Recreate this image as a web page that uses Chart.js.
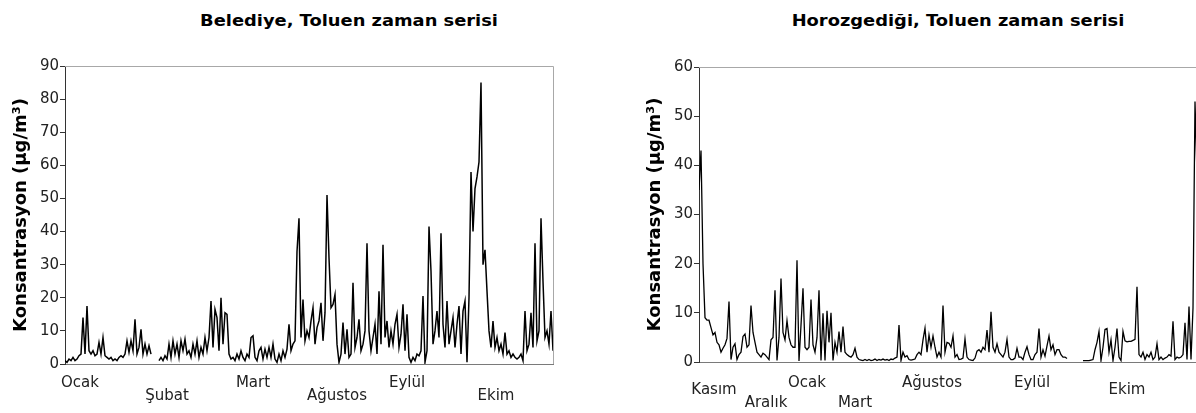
<!DOCTYPE html>
<html>
<head>
<meta charset="utf-8">
<script src="https://cdn.jsdelivr.net/npm/chart.js@4.4.1/dist/chart.umd.min.js"></script>
<style>
  html, body { margin: 0; padding: 0; background: #fff; width: 1196px; height: 413px; overflow: hidden; }
  .title { position: absolute; top: 12px; font: bold 15px "DejaVu Sans"; color: #000; white-space: nowrap;
           transform: translateX(-50%) scaleX(1.19); }
  .box { position: absolute; top: 0; height: 413px; }
</style>
</head>
<body>
<div class="title" style="left:349px">Belediye, Toluen zaman serisi</div>
<div class="title" style="left:958px">Horozgediği, Toluen zaman serisi</div>
<div class="box" style="left:0; width:600px"><canvas id="chartBelediye"></canvas></div>
<div class="box" style="left:634px; width:576px"><canvas id="chartHoroz"></canvas></div>
<script>
var yTitle = "Konsantrasyon (µg/m³)";

// Belediye
var belediyeMonths = ["Ocak", "Şubat", "Mart", "Ağustos", "Eylül", "Ekim"];
var belediyeMonthAt = [7.5, 51, 94, 136, 171, 215.5];
var belediyeToluene = [
  1, 0.5, 1.5, 1, 2, 1, 1.5, 2.5, 3, 14,
  3, 17.5, 4, 3, 4, 2.5, 3, 6.5, 3, 8,
  2.5, 2, 1.5, 2, 1, 1.5, 1, 2, 2.5, 2,
  3, 7, 3.5, 7, 4, 13.5, 3, 5, 10.5, 3,
  6, 3, 5.5, 3, null, null, null, 1, 2, 1,
  2.5, 1.5, 6, 2, 7, 3, 6, 2, 7, 4,
  7.5, 3, 4, 2, 6, 3, 7, 2, 5, 3,
  8, 4, 8, 19, 5, 16.5, 14, 4, 20, 6,
  15.5, 15, 3, 1.5, 2, 1, 3, 1.5, 4, 2,
  1, 3, 2, 8, 8.5, 2, 1, 4, 5, 1.5,
  4.5, 2, 5, 2, 6, 1.5, 0.5, 3, 1, 4,
  2, 4.5, 12, 4, 6, 7, 34, 44, 8, 19.5,
  7, 10, 8, 13, 17, 6, 11, 13, 18.5, 7,
  15.5, 51, 32, 17, 18, 21, 6, 0.5, 3, 12.5,
  3, 10.5, 2, 3, 24.5, 5, 8, 13.5, 4, 6,
  10, 36.5, 10, 4, 8, 12, 3, 22, 6, 36,
  8, 13, 5, 10, 6, 12, 15, 5, 9, 18,
  4, 15, 2, 0.5, 2, 1, 3, 2.5, 4, 20.5,
  0.5, 4, 41.5, 28, 6, 10, 16, 8, 39.5, 12,
  5, 19, 6, 10, 14, 5, 12, 17.5, 3, 16,
  19, 0.5, 20, 58, 40, 53, 56.5, 61, 85, 30,
  34.5, 22, 10, 5, 13, 5, 8, 4, 6, 3,
  9.5, 3, 4, 2, 3, 2, 1.5, 2, 3, 1,
  16, 4, 6, 15.5, 5, 36.5, 7, 10, 44, 25,
  8, 10, 6, 16, 4
];

// Horozgediği
var horozMonths = ["Kasım", "Aralık", "Ocak", "Mart", "Ağustos", "Eylül", "Ekim"];
var horozMonthAt = [7.5, 33.5, 54, 78, 116.5, 166.5, 214];
var horozToluene = [
  35, 43, 20, 9, 8.5, 8.5, 7, 5.5, 6, 4,
  3.5, 2, 2.8, 3.5, 4.8, 12.3, 0.5, 3, 3.7, 0.5,
  1.5, 2, 5.2, 5.7, 3, 3.5, 11.5, 6, 4, 2,
  1.5, 1, 1.8, 1.5, 1, 0.5, 4.5, 5, 14.6, 0.3,
  5, 17, 6, 4.5, 8.4, 5, 3.5, 3, 3, 20.7,
  0.2, 7.5, 15, 3, 2.5, 3, 12.7, 3.5, 2, 5,
  14.6, 0.3, 9.9, 0.3, 10.4, 4, 10, 0.3, 4, 2,
  6.2, 2, 7.2, 2, 1.5, 1.2, 1, 1.5, 2.8, 1,
  0.5, 0.4, 0.3, 0.5, 0.3, 0.5, 0.3, 0.4, 0.6, 0.3,
  0.5, 0.4, 0.6, 0.4, 0.5, 0.3, 0.6, 0.5, 0.8, 1,
  7.5, 0.3, 2, 1, 1.3, 0.5, 0.4, 0.5, 0.6, 1.5,
  2, 1.5, 4.5, 6.9, 2, 5.5, 3, 5.3, 3, 1,
  2, 1, 11.5, 2, 4, 3.8, 3, 5.3, 1, 1.5,
  0.5, 0.6, 0.8, 4.7, 1, 0.5, 0.4, 0.3, 0.8, 2.2,
  2.5, 2, 3, 2.5, 6.5, 2, 10.2, 3, 2, 3.7,
  2, 1.5, 1, 2, 4.6, 1, 0.5, 0.5, 0.8, 2.8,
  1, 1, 0.5, 2, 3.1, 1.5, 0.5, 0.5, 1.5, 2,
  6.8, 1, 2.5, 1.2, 3.3, 5.3, 2.5, 3.5, 1.5, 2.5,
  2.5, 1.5, 1, 1, 0.7, null, null, null, null, null,
  null, null, 0.3, 0.3, 0.3, 0.3, 0.4, 0.5, 2.5, 4,
  6.2, 0.3, 3, 6.6, 6.8, 2, 4.5, 0.3, 3, 6.8,
  1, 0.3, 6.2, 4.3, 4.1, 4.2, 4.2, 4.4, 4.6, 15.3,
  1.5, 1, 2, 0.5, 1.5, 1, 2, 0.5, 1, 3.7,
  0.5, 1, 0.5, 0.8, 1, 1.5, 1.2, 8.3, 0.5, 1,
  0.8, 1, 1.5, 8, 0.5, 11.3, 0.5, 11, 53, 38
];

Chart.defaults.font.family = "DejaVu Sans";
Chart.defaults.color = "#222";

// grey top/right lines of the plot box
var frame = {
  id: "frame",
  beforeDatasetsDraw: function (chart) {
    var a = chart.chartArea;
    var ctx = chart.ctx;
    ctx.save();
    ctx.strokeStyle = "#a8a8a8";
    ctx.lineWidth = 1;
    ctx.beginPath();
    ctx.moveTo(a.left, Math.round(a.top) + 0.5);
    ctx.lineTo(Math.round(a.right) + 0.5, Math.round(a.top) + 0.5);
    ctx.lineTo(Math.round(a.right) + 0.5, a.bottom);
    ctx.stroke();
    ctx.restore();
  }
};

function makeChart(id, values, months, monthAt, rows, s) {
  var points = values.map(function (v, i) { return { x: i, y: v }; });
  return new Chart(document.getElementById(id), {
    type: "line",
    data: {
      datasets: [{
        data: points,
        borderColor: "#000",
        borderWidth: s.lineWidth,
        borderJoinStyle: "miter",
        pointRadius: 0,
        tension: 0,
        spanGaps: false
      }]
    },
    options: {
      responsive: true,
      maintainAspectRatio: false,
      animation: false,
      events: [],
      layout: { padding: { top: s.top, right: s.right, left: 0, bottom: 0 } },
      plugins: { legend: { display: false }, tooltip: { enabled: false } },
      scales: {
        x: {
          type: "linear",
          min: 0,
          max: s.xMax,
          grid: { display: false, drawTicks: false },
          border: { display: true, color: "#7a7a7a" },
          afterFit: function (sc) { sc.height = s.xHeight; },
          afterBuildTicks: function (sc) {
            sc.ticks = monthAt.map(function (v) { return { value: v }; });
          },
          ticks: {
            autoSkip: false,
            maxRotation: 0,
            minRotation: 0,
            padding: s.labelPad,
            color: "#222",
            font: { size: 15, lineHeight: s.lineGap },
            callback: function (v, i) {
              var lines = [];
              for (var k = 0; k < s.lines; k++) lines.push("");
              lines[rows[i]] = months[i];
              return lines;
            }
          }
        },
        y: {
          min: 0,
          max: s.yMax,
          afterFit: function (sc) { sc.width = 65; },
          grid: { drawOnChartArea: false, drawTicks: true, tickLength: 5, color: "#333" },
          border: { display: true, color: "#333" },
          ticks: { stepSize: 10, padding: 1, color: "#222", font: { size: 15 } },
          title: {
            display: true,
            text: yTitle,
            color: "#000",
            font: { size: 18, weight: "bold" },
            padding: { top: 11, bottom: 0 }
          }
        }
      }
    },
    plugins: [frame]
  });
}

makeChart("chartBelediye", belediyeToluene, belediyeMonths, belediyeMonthAt, [0, 1, 0, 1, 0, 1],
  { top: 66, right: 47, xMax: 244, xHeight: 49, yMax: 90, lines: 2, lineGap: "13px", labelPad: 12.5, lineWidth: 1.5 });

makeChart("chartHoroz", horozToluene, horozMonths, horozMonthAt, [1, 3, 0, 3, 0, 0, 1],
  { top: 67, right: 11, xMax: 250, xHeight: 51, yMax: 60, lines: 4, lineGap: "6.7px", labelPad: 17.6, lineWidth: 1.3 });
</script>
</body>
</html>
